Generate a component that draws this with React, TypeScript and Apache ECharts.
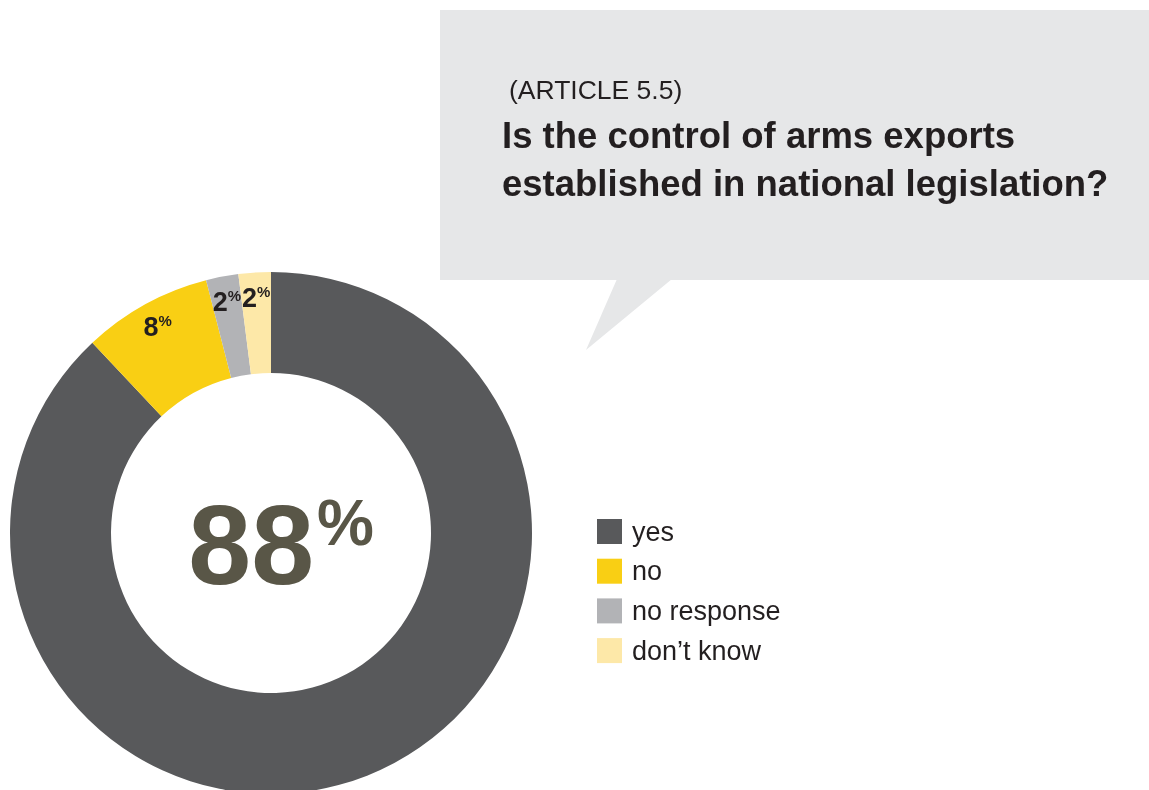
import React, { useEffect, useRef } from "react";
import * as echarts from "echarts";

const categories = ["yes", "no", "no response", "don’t know"];
const values = [88, 8, 2, 2];
const colors = ["#58595b", "#f9cf14", "#b2b3b6", "#fde8a8"];
const subtitle = "(ARTICLE 5.5)";
const questionLines = ["Is the control of arms exports", "established in national legislation?"];

export default function App() {
  const ref = useRef<HTMLDivElement>(null);
  useEffect(() => {
    const chart = echarts.init(ref.current!, null, { renderer: "svg" });
    const ff = "'Liberation Sans', Arial, Helvetica, sans-serif";
    const pieData = categories.map((name, i) => ({
      name,
      value: values[i],
      itemStyle: { color: colors[i] },
    }));
    chart.setOption({
      animation: false,
      legend: {
        orient: "vertical",
        left: 597,
        top: 518,
        padding: 0,
        itemWidth: 25,
        itemHeight: 25,
        itemGap: 12.7,
        icon: "rect",
        selectedMode: false,
        textStyle: { fontSize: 27, color: "#231f20", fontFamily: ff, padding: [0, 0, 0, 5] },
        data: categories.map((name, i) => ({ name, itemStyle: { color: colors[i] } })),
      },
      graphic: [
        { type: "rect", shape: { x: 440, y: 10, width: 709, height: 270 }, style: { fill: "#e6e7e8" } },
        { type: "polygon", shape: { points: [[617, 279], [672, 279], [586, 350]] }, style: { fill: "#e6e7e8" } },
        {
          type: "text",
          x: 509,
          y: 90,
          style: { text: subtitle, fontSize: 26.5, fontFamily: ff, fill: "#231f20", align: "left", verticalAlign: "middle" },
        },
        ...questionLines.map((t, i) => ({
          type: "text",
          x: 502,
          y: 135 + i * 48,
          style: { text: t, fontSize: 36.5, fontWeight: "bold", fontFamily: ff, fill: "#231f20", align: "left", verticalAlign: "middle" },
        })),
        {
          type: "text",
          x: 314,
          y: 545,
          style: { text: String(values[0]), fontSize: 113, fontWeight: "bold", fontFamily: ff, fill: "#595647", align: "right", verticalAlign: "middle" },
        },
        {
          type: "text",
          x: 317,
          y: 523,
          style: { text: "%", fontSize: 64, fontWeight: "bold", fontFamily: ff, fill: "#595647", align: "left", verticalAlign: "middle" },
        },
      ],
      series: [
        {
          type: "pie",
          center: [271, 533],
          radius: [160, 261],
          startAngle: 90,
          clockwise: true,
          label: { show: false },
          labelLine: { show: false },
          emphasis: { disabled: true },
          itemStyle: { borderWidth: 0 },
          data: pieData,
        },
        {
          type: "pie",
          center: [271, 533],
          radius: [204, 261],
          startAngle: 90,
          clockwise: true,
          silent: true,
          emphasis: { disabled: true },
          itemStyle: { color: "rgba(0,0,0,0)", borderWidth: 0 },
          labelLine: { show: false },
          label: {
            show: true,
            position: "inside",
            formatter: (p: any) => (p.dataIndex === 0 ? "" : `{v|${p.value}}{p|%}`),
            rich: {
              v: { fontSize: 27, fontWeight: "bold", color: "#231f20", fontFamily: ff },
              p: { fontSize: 15, fontWeight: "bold", color: "#231f20", fontFamily: ff, verticalAlign: "top" },
            },
          },
          data: categories.map((name, i) => ({ name, value: values[i] })),
        },
      ],
    });
    return () => chart.dispose();
  }, []);
  return <div ref={ref} style={{ position: "fixed", left: 0, top: 0, width: 1149, height: 790 }} />;
}
